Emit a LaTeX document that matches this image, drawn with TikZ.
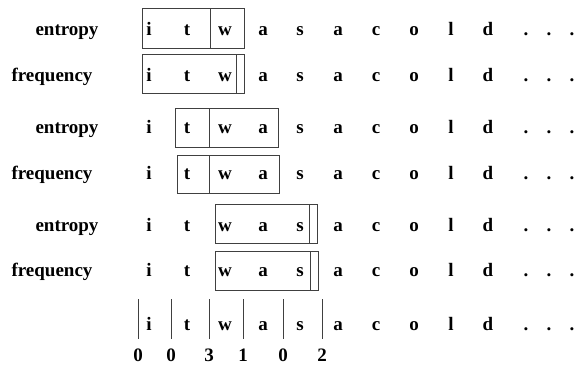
\documentclass[tikz,border=0pt]{standalone}
\usepackage{fontspec}
\setmainfont{Liberation Serif}[BoldFont={Liberation Serif Bold}]
\newcommand{\chrfont}{\fontsize{19}{22}\selectfont\bfseries}
\begin{document}
\begin{tikzpicture}[x=1pt, y=-1pt,
  chr/.style={anchor=base, inner sep=0pt, font=\chrfont},
  lbl/.style={anchor=base, inner sep=0pt, font=\chrfont},
  win/.style={draw=black!75, line width=0.9pt},
  sep/.style={draw=black!75, line width=0.9pt}
]
\useasboundingbox (0,0) rectangle (578,364);

% row labels
\node[lbl] (lab1) at (67,35)  {entropy};
\node[lbl] (lab2) at (52,81)  {frequency};
\node[lbl] (lab3) at (67,133) {entropy};
\node[lbl] (lab4) at (52,179) {frequency};
\node[lbl] (lab5) at (67,231) {entropy};
\node[lbl] (lab6) at (52,276) {frequency};

% the text, one row per line
\foreach \r/\yb in {1/35, 2/81, 3/133, 4/179, 5/231, 6/276, 7/330} {
  \foreach \c/\xc/\ch in {1/149/i, 2/187/t, 3/225/w, 4/263/a, 5/300/s,
                          6/338/a, 7/376/c, 8/414/o, 9/451/l, 10/488/d,
                          11/526/., 12/549/., 13/572/.} {
    \node[chr] (c\r-\c) at (\xc,\yb) {\ch};
  }
}

% windows
\draw[win] (142,8)   rectangle (244,48);
\draw[sep] (210,8)   -- (210,48);
\draw[win] (142,54)  rectangle (244,93);
\draw[sep] (236,54)  -- (236,93);
\draw[win] (175,108) rectangle (278,147);
\draw[sep] (209,108) -- (209,147);
\draw[win] (177,155) rectangle (279,193);
\draw[sep] (209,155) -- (209,193);
\draw[win] (215,204) rectangle (317,243);
\draw[sep] (309,204) -- (309,243);
\draw[win] (215,251) rectangle (318,290);
\draw[sep] (310,251) -- (310,290);

% segmentation and counts
\foreach \k/\xb/\n in {1/138/0, 2/171/0, 3/209/3, 4/243/1, 5/283/0, 6/322/2} {
  \draw[sep] (\xb,299) -- (\xb,339);
  \node[chr] (n\k) at (\xb,361) {\n};
}
\end{tikzpicture}
\end{document}
